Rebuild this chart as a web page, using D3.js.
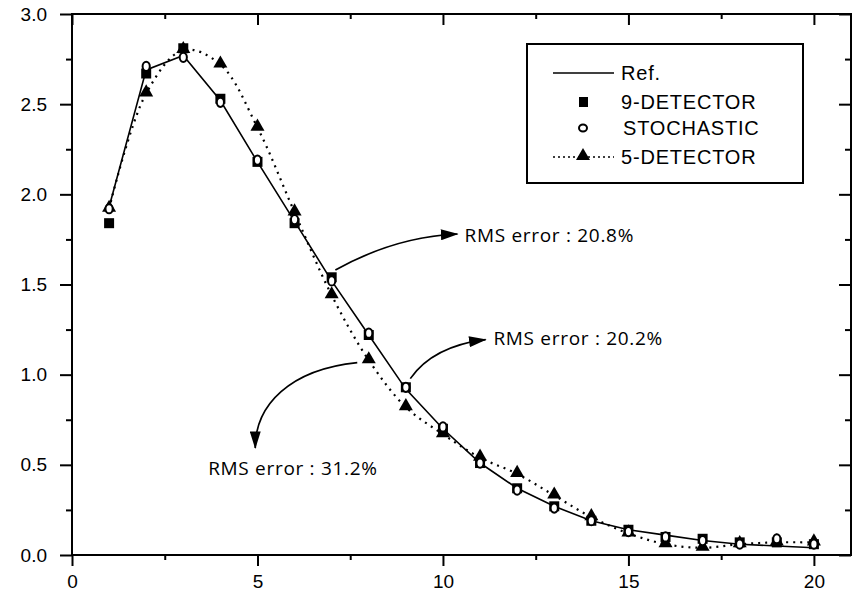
<!DOCTYPE html>
<html>
<head>
<meta charset="utf-8">
<script src="https://cdn.jsdelivr.net/npm/d3@7"></script>
<style>
  body { margin: 0; background: #fff; }
  svg { display: block; }
</style>
</head>
<body>
<script>
// Data
const xs = [1, 2, 3, 4, 5, 6, 7, 8, 9, 10, 11, 12, 13, 14, 15, 16, 17, 18, 19, 20];
const refVals = [1.93, 2.69, 2.77, 2.52, 2.18, 1.85, 1.52, 1.22, 0.92, 0.70, 0.51, 0.37, 0.27, 0.19, 0.14, 0.11, 0.08, 0.06, 0.05, 0.04];
const det9Vals = [1.84, 2.67, 2.81, 2.53, 2.18, 1.84, 1.54, 1.22, 0.93, 0.70, 0.51, 0.37, 0.27, 0.19, 0.14, 0.10, 0.09, 0.07, 0.07, 0.06];
const stochVals = [1.92, 2.71, 2.76, 2.51, 2.19, 1.86, 1.52, 1.23, 0.93, 0.71, 0.51, 0.36, 0.26, 0.19, 0.13, 0.10, 0.08, 0.06, 0.09, 0.06];
const det5Vals = [1.92, 2.56, 2.80, 2.72, 2.37, 1.90, 1.44, 1.08, 0.82, 0.67, 0.54, 0.45, 0.33, 0.21, 0.12, 0.06, 0.04, 0.06, 0.07, 0.07];
const xTicks = [0, 5, 10, 15, 20];
const yTicks = [0, 0.5, 1.0, 1.5, 2.0, 2.5, 3.0];
const legendLabels = ["Ref.", "9-DETECTOR", "STOCHASTIC", "5-DETECTOR"];

// annotations: start, control points, tip, label position (data units)
const notes = [
  { label: "RMS error : 20.8%", pts: [[7.10, 1.58], [8.69, 1.764], [10.39, 1.78]], text: [10.58, 1.733] },
  { label: "RMS error : 20.2%", pts: [[9.12, 0.978], [9.73, 1.158], [11.15, 1.194]], text: [11.36, 1.167] },
  { label: "RMS error : 31.2%", pts: [[7.69, 1.067], [5.88, 1.029], [4.94, 0.833], [4.94, 0.594]], text: [3.67, 0.444] }
];

const W = 852, H = 599;
const margin = { top: 14, right: 1, bottom: 44, left: 72 };
const width = W - margin.left - margin.right;
const height = H - margin.top - margin.bottom;

const svg = d3.select("body").append("svg")
  .attr("width", W).attr("height", H);

const g = svg.append("g")
  .attr("transform", `translate(${margin.left},${margin.top})`);

const x = d3.scaleLinear().domain([0, 21]).range([0, width]);
const y = d3.scaleLinear().domain([0, 3]).range([height, 0]);

const minorX = d3.range(0, 21.01, 2.5).filter(v => v % 5 !== 0);
const minorY = d3.range(0, 3.01, 0.25).filter(v => Math.abs(v * 2 - Math.round(v * 2)) > 0.01);

// axes
g.append("g").attr("transform", `translate(0,${height})`)
  .call(d3.axisBottom(x).tickValues(xTicks).tickFormat(d3.format("d")).tickSize(11).tickPadding(9))
  .call(a => a.select(".domain").remove());
g.append("g").attr("transform", `translate(0,${height})`)
  .call(d3.axisBottom(x).tickValues(minorX).tickFormat("").tickSize(5))
  .call(a => a.select(".domain").remove());
g.append("g")
  .call(d3.axisLeft(y).tickValues(yTicks).tickFormat(d3.format(".1f")).tickSize(12).tickPadding(13))
  .call(a => a.select(".domain").remove());
g.append("g")
  .call(d3.axisLeft(y).tickValues(minorY).tickFormat("").tickSize(6))
  .call(a => a.select(".domain").remove());
// top & right (inward ticks)
g.append("g")
  .call(d3.axisBottom(x).tickValues(xTicks).tickFormat("").tickSize(11))
  .call(a => a.select(".domain").remove());
g.append("g")
  .call(d3.axisBottom(x).tickValues(minorX).tickFormat("").tickSize(5))
  .call(a => a.select(".domain").remove());
g.append("g").attr("transform", `translate(${width},0)`)
  .call(d3.axisLeft(y).tickValues(yTicks).tickFormat("").tickSize(12))
  .call(a => a.select(".domain").remove());
g.append("g").attr("transform", `translate(${width},0)`)
  .call(d3.axisLeft(y).tickValues(minorY).tickFormat("").tickSize(6))
  .call(a => a.select(".domain").remove());
g.selectAll(".tick line").attr("stroke", "#000").attr("stroke-width", 2);
g.selectAll(".tick text")
  .style("font-family", "Arial, 'Liberation Sans', sans-serif")
  .style("font-size", "19px").attr("fill", "#000");

g.append("rect")
  .attr("width", width).attr("height", height)
  .attr("fill", "none").attr("stroke", "#000").attr("stroke-width", 2);

// lines
const refLine = d3.line().x((d, i) => x(xs[i])).y(d => y(d));
const dotLine = d3.line().x((d, i) => x(xs[i])).y(d => y(d)).curve(d3.curveCatmullRom);

g.append("path").datum(refVals)
  .attr("d", refLine).attr("fill", "none").attr("stroke", "#000").attr("stroke-width", 1.6);
g.append("path").datum(det5Vals)
  .attr("d", dotLine).attr("fill", "none").attr("stroke", "#000")
  .attr("stroke-width", 2.2).attr("stroke-dasharray", "2,5");

// markers
const sq = 10;
g.selectAll(".sq").data(det9Vals).join("rect")
  .attr("x", (d, i) => x(xs[i]) - sq / 2).attr("y", d => y(d) - sq / 2)
  .attr("width", sq).attr("height", sq).attr("fill", "#000");

const tri = d3.symbol().type(d3.symbolTriangle).size(85);
g.selectAll(".tri").data(det5Vals).join("path")
  .attr("d", tri).attr("fill", "#000")
  .attr("transform", (d, i) => `translate(${x(xs[i])},${y(d) - 1})`);

g.selectAll(".circ").data(stochVals).join("ellipse")
  .attr("cx", (d, i) => x(xs[i])).attr("cy", d => y(d))
  .attr("rx", 3.6).attr("ry", 4.6)
  .attr("fill", "#fff").attr("stroke", "#000").attr("stroke-width", 2);

// annotations
svg.append("defs").append("marker")
  .attr("id", "head").attr("viewBox", "0 0 16 10")
  .attr("refX", 15).attr("refY", 5)
  .attr("markerWidth", 18).attr("markerHeight", 11)
  .attr("markerUnits", "userSpaceOnUse").attr("orient", "auto")
  .append("path").attr("d", "M0,0L16,5L0,10Z").attr("fill", "#000");

notes.forEach(n => {
  const p = n.pts.map(q => [x(q[0]), y(q[1])]);
  const path = d3.path();
  path.moveTo(p[0][0], p[0][1]);
  if (p.length === 3) path.quadraticCurveTo(p[1][0], p[1][1], p[2][0], p[2][1]);
  else path.bezierCurveTo(p[1][0], p[1][1], p[2][0], p[2][1], p[3][0], p[3][1]);
  g.append("path").attr("d", path.toString())
    .attr("fill", "none").attr("stroke", "#000").attr("stroke-width", 1.7)
    .attr("marker-end", "url(#head)");
  g.append("text")
    .attr("x", x(n.text[0])).attr("y", y(n.text[1]))
    .attr("font-family", "'Open Sans', 'DejaVu Sans', sans-serif")
    .attr("font-size", 19).attr("letter-spacing", 0.7).attr("fill", "#000")
    .text(n.label);
});

// legend
const lg = svg.append("g");
lg.append("rect").attr("x", 527).attr("y", 44).attr("width", 276).attr("height", 139)
  .attr("fill", "#fff").attr("stroke", "#000").attr("stroke-width", 2);
const rowY = [73, 102, 128, 157];
const textX = [621, 621, 623, 621];
lg.append("line").attr("x1", 553).attr("x2", 614).attr("y1", rowY[0]).attr("y2", rowY[0])
  .attr("stroke", "#000").attr("stroke-width", 1.6);
lg.append("rect").attr("x", 579).attr("y", rowY[1] - 5).attr("width", 9).attr("height", 10).attr("fill", "#000");
lg.append("ellipse").attr("cx", 583).attr("cy", rowY[2]).attr("rx", 4).attr("ry", 3.5)
  .attr("fill", "#fff").attr("stroke", "#000").attr("stroke-width", 2);
lg.append("line").attr("x1", 553).attr("x2", 614).attr("y1", rowY[3]).attr("y2", rowY[3])
  .attr("stroke", "#000").attr("stroke-width", 1.6).attr("stroke-dasharray", "2,3");
lg.append("path").attr("d", tri).attr("fill", "#000")
  .attr("transform", `translate(583,${rowY[3] - 1})`);
lg.selectAll(".lt").data(legendLabels).join("text")
  .attr("x", (d, i) => textX[i]).attr("y", (d, i) => rowY[i] + 7)
  .attr("font-family", "Arial, 'Liberation Sans', sans-serif")
  .attr("font-size", 20).attr("letter-spacing", 0.8).attr("fill", "#000")
  .text(d => d);
</script>
</body>
</html>
